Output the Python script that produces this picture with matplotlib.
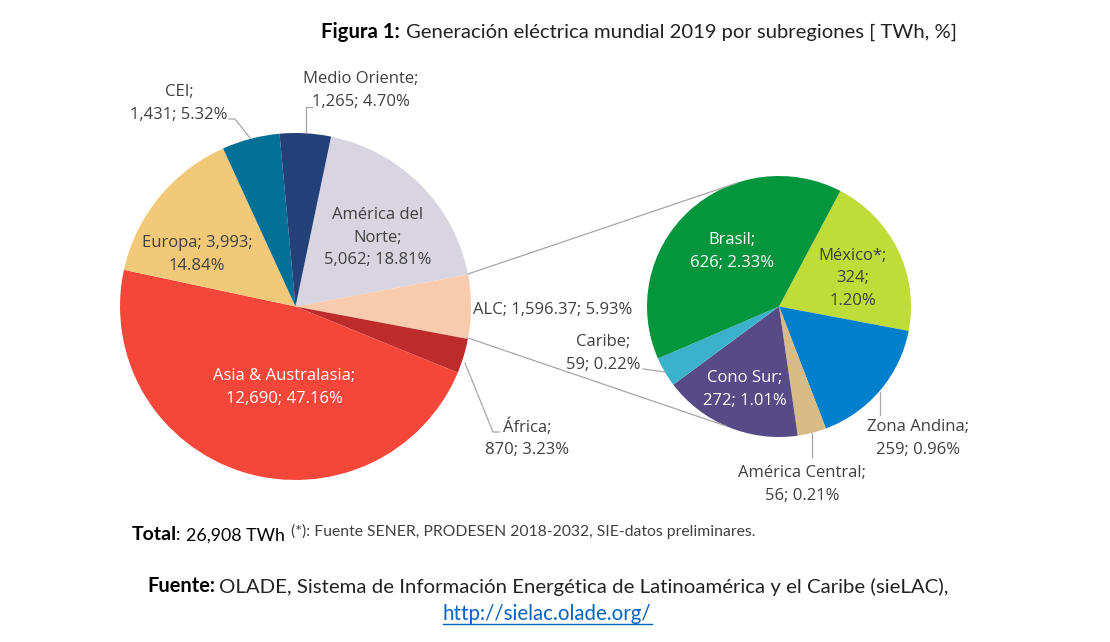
import matplotlib
matplotlib.use('Agg')
import matplotlib.pyplot as plt

plt.rcParams['font.family'] = ['Open Sans', 'DejaVu Sans']

W, H = 1110, 642

# region principal
main_values = [5062, 1596.37, 870, 12690, 3993, 1431, 1265]
main_colors = ['#d8d5e0', '#f8cbad', '#bd2b2b', '#f44739', '#f2c879', '#037096', '#234078']

# desglose ALC
sub_values = [324, 259, 56, 272, 59, 626]
sub_colors = ['#c0dc38', '#0080cc', '#d9bb87', '#564b87', '#3cb1cc', '#03963c']

TXT = '#404040'
main_labels = [
    (378, 236, 'América del\nNorte;\n5,062; 18.81%', TXT),
    (197, 253, 'Europa; 3,993;\n14.84%', TXT),
    (284, 386, 'Asia & Australasia;\n12,690; 47.16%', 'white'),
    (553, 308, 'ALC; 1,596.37; 5.93%', TXT),
    (527, 437, 'África;\n870; 3.23%', TXT),
    (179, 102, 'CEI;\n1,431; 5.32%', TXT),
    (361, 89, 'Medio Oriente;\n1,265; 4.70%', TXT),
]
sub_labels = [
    (732, 250, 'Brasil;\n626; 2.33%', 'white'),
    (853, 277, 'México*;\n324;\n1.20%', TXT),
    (745, 388, 'Cono Sur;\n272; 1.01%', 'white'),
    (603, 352, 'Caribe;\n59; 0.22%', TXT),
    (918, 437, 'Zona Andina;\n259; 0.96%', TXT),
    (802, 483, 'América Central;\n56; 0.21%', TXT),
]
leader_lines = [
    [(250, 138), (235, 119), (229, 119)],
    [(306, 133), (306, 107), (312, 107)],
    [(465, 363), (493, 432), (499, 432)],
    [(643, 369), (665, 372)],
    [(880, 392), (880, 415)],
    [(812, 433), (812, 457)],
]
zoom_lines = [
    [(468, 274), (737, 183)],
    [(468, 338), (726, 426)],
]


def px(x, y):
    # pixeles de la imagen a coordenadas de figura
    return x / W, 1 - y / H


def pie_axes(fig, left, top, right, bottom):
    x0, y0 = px(left, bottom)
    return fig.add_axes([x0, y0, (right - left) / W, (bottom - top) / H])


def label(x, y, s, **kw):
    a = px(x, y + 1.5)
    return fig.text(a[0], a[1], s, va='center', **kw)


fig = plt.figure(figsize=(W / 100, H / 100), dpi=100, facecolor='white')

ax1 = pie_axes(fig, 120, 133, 471, 480)
ax1.pie(main_values, colors=main_colors, startangle=78.3, counterclock=False, radius=1,
        wedgeprops={'linewidth': 0})
ax1.set_aspect('auto')
ax1.set_xlim(-1, 1)
ax1.set_ylim(-1, 1)

ax2 = pie_axes(fig, 647, 176, 911, 437)
ax2.pie(sub_values, colors=sub_colors, startangle=62.3, counterclock=False, radius=1,
        wedgeprops={'linewidth': 0})
ax2.set_aspect('auto')
ax2.set_xlim(-1, 1)
ax2.set_ylim(-1, 1)

for pts in zoom_lines + leader_lines:
    xy = [px(*p) for p in pts]
    fig.add_artist(plt.Line2D([p[0] for p in xy], [p[1] for p in xy], color='#a6a6a6', lw=0.9))

for x, y, s, c in main_labels + sub_labels:
    label(x, y, s, color=c, fontsize=12, ha='center', linespacing=1.52)

# titulo y notas
label(321, 31, 'Figura 1:', fontsize=14.6, weight='bold', color='black', family='Lato')
label(406, 31, 'Generación eléctrica mundial 2019 por subregiones [ TWh, %]', fontsize=14.6,
      color='#222222', family='Lato')

label(132, 533, 'Total', fontsize=14, weight='bold', color='black', family='Lato')
label(176, 534, ':', fontsize=12.8, color='black', family='Lato')
label(186, 534, '26,908 TWh', fontsize=12.8, color='black', family='Lato')
label(291, 530, '(*): Fuente SENER, PRODESEN 2018-2032, SIE-datos preliminares.', fontsize=11.3,
      color=TXT, family='Lato')

label(147, 585, 'Fuente:', fontsize=14.4, weight='bold', color='black', family='Lato')
label(219, 585, 'OLADE, Sistema de Información Energética de Latinoamérica y el Caribe (sieLAC),',
      fontsize=14.7, color='#222222', family='Lato')
label(547, 613, 'http://sielac.olade.org/', fontsize=14.8, color='#0563c1', ha='center', family='Lato')
a, b = px(443, 624), px(652, 624)
fig.add_artist(plt.Line2D([a[0], b[0]], [a[1], b[1]], color='#0563c1', lw=1))

fig.savefig('out.png', dpi=100)
